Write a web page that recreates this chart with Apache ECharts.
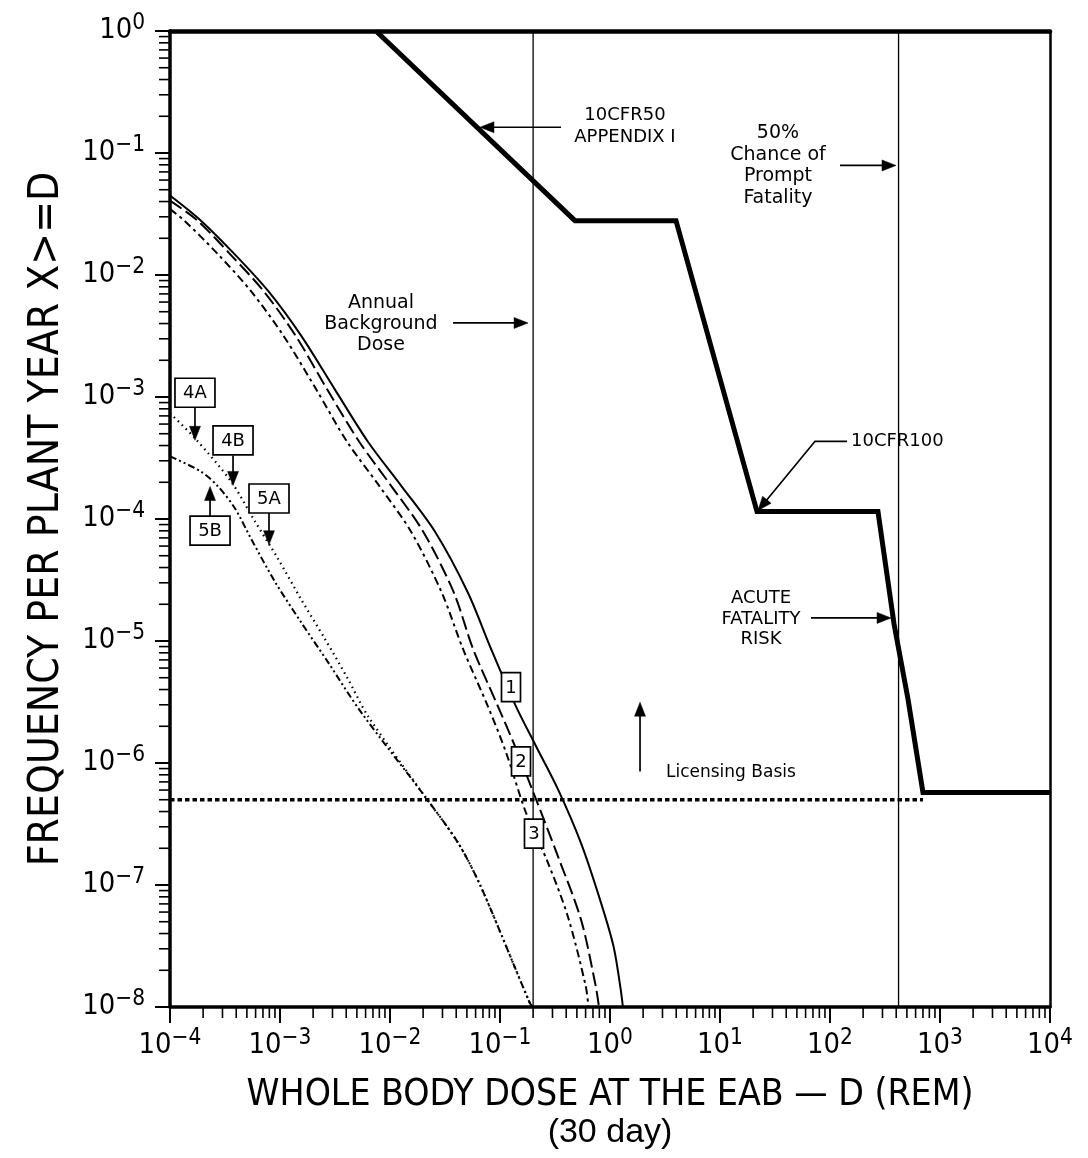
<!DOCTYPE html>
<html>
<head>
<meta charset="utf-8">
<script src="https://cdn.jsdelivr.net/npm/echarts@6/dist/echarts.min.js"></script>
<style>html,body{margin:0;padding:0;background:#fff}#c{width:1088px;height:1158px}</style>
</head>
<body>
<div id="c"></div>
<script>
// ---------------- DATA ----------------
// Curve 1 (solid)
const doseC1 = [1e-4, 1.91e-4, 3.9e-4, 7.8e-4, 1.55e-3, 3.16e-3, 6.3e-3, 1.26e-2, 2.56e-2, 5.1e-2, 8.3e-2, 0.14, 0.212, 0.336, 0.545, 0.83, 1.08, 1.25, 1.31];
const freqC1 = [0.0448, 0.0279, 0.0147, 0.0074, 3.2e-3, 1.15e-3, 4.3e-4, 1.88e-4, 7.9e-5, 2.5e-5, 8.6e-6, 2.9e-6, 1.38e-6, 6.1e-7, 2.2e-7, 7.1e-8, 3.1e-8, 1.4e-8, 1.0e-8];
// Curve 2 (long dash)
const doseC2 = [1e-4, 1.78e-4, 3.55e-4, 7.08e-4, 1.38e-3, 2.69e-3, 5.25e-3, 1.02e-2, 2.0e-2, 3.8e-2, 5.69e-2, 9.6e-2, 0.137, 0.208, 0.337, 0.545, 0.74, 0.794];
const freqC2 = [0.0407, 0.0279, 0.0147, 7.4e-3, 3.2e-3, 1.15e-3, 4.3e-4, 1.88e-4, 7.9e-5, 2.5e-5, 8.6e-6, 2.9e-6, 1.37e-6, 5.3e-7, 1.71e-7, 5.2e-8, 1.5e-8, 1.0e-8];
// Curve 3 (short dash)
const doseC3 = [1e-4, 1.35e-4, 2.75e-4, 5.43e-4, 1.07e-3, 2.14e-3, 4.07e-3, 7.94e-3, 1.55e-2, 2.95e-2, 4.61e-2, 7.78e-2, 0.1135, 0.172, 0.273, 0.415, 0.6, 0.638];
const freqC3 = [0.0347, 0.0279, 0.0147, 7.4e-3, 3.2e-3, 1.15e-3, 4.3e-4, 1.88e-4, 7.9e-5, 2.5e-5, 8.6e-6, 2.9e-6, 1.22e-6, 3.93e-7, 1.52e-7, 5.47e-8, 1.5e-8, 1.0e-8];
// Curve 4 (dotted: 4A / 4B / 5A)
const doseC4 = [1e-4, 1.69e-4, 3.59e-4, 5.93e-4, 9.59e-4, 1.55e-3, 2.56e-3, 4.15e-3, 6.31e-3, 2.08e-2, 4.15e-2, 6.71e-2, 0.1875, 0.2];
const freqC4 = [7.36e-4, 4.58e-4, 2.03e-4, 9.53e-5, 4.72e-5, 2.21e-5, 1.04e-5, 4.88e-6, 2.42e-6, 5.31e-7, 2.22e-7, 9.66e-8, 1.07e-8, 1.0e-8];
// Curve 5 (dash-dot-dot: 5B)
const doseC5 = [1e-4, 1.91e-4, 2.73e-4, 3.9e-4, 5.45e-4, 9.02e-4, 1.55e-3, 2.73e-3, 5.45e-3, 2.08e-2, 4.15e-2, 6.71e-2, 0.1875, 0.2];
const freqC5 = [3.26e-4, 2.45e-4, 1.85e-4, 1.22e-4, 6.9e-5, 3.05e-5, 1.43e-5, 6.71e-6, 2.61e-6, 5.31e-7, 2.22e-7, 9.66e-8, 1.07e-8, 1.0e-8];
// Thick criteria line (10CFR50 App. I / 10CFR100 / acute fatality risk)
const doseRisk = [7.46e-3, 0.48, 3.98, 21.7, 273, 382, 512, 700, 1e4];
const freqRisk = [1.0, 0.0279, 0.0279, 1.15e-4, 1.15e-4, 1.38e-5, 3.33e-6, 5.73e-7, 5.73e-7];
// Licensing basis
const doseLic = [1e-4, 700];
const freqLic = [5e-7, 5e-7];
// Vertical reference doses
const backgroundDose = 0.2;
const promptFatalityDose = 420;
// Axis
const X_MIN = 1e-4, X_MAX = 1e4, Y_MIN = 1e-8, Y_MAX = 1;
const X_TITLE = 'WHOLE BODY DOSE AT THE EAB — D (REM)';
const X_SUBTITLE = '(30 day)';
const Y_TITLE = 'FREQUENCY PER PLANT YEAR X>=D';
const MINOR_MANTISSAS = [2, 3, 4, 5, 6, 7, 8, 9];
const X_DECADES = [-4, -3, -2, -1, 0, 1, 2, 3];
const Y_DECADES = [-8, -7, -6, -5, -4, -3, -2, -1];

// Annotations (positions as log10 exponents of [dose, frequency])
const ANNO_TEXTS = [
  {lines: ['10CFR50', 'APPENDIX I'], at: [0.136, -0.78], size: 18, lh: 22},
  {lines: ['50%', 'Chance of', 'Prompt', 'Fatality'], at: [1.527, -1.102], size: 19, lh: 21.5},
  {lines: ['Annual', 'Background', 'Dose'], at: [-2.082, -2.401], size: 19, lh: 21},
  {lines: ['10CFR100'], at: [2.191, -3.363], size: 18, align: 'left'},
  {lines: ['ACUTE', 'FATALITY', 'RISK'], at: [1.373, -4.819], size: 18, lh: 20.5},
  {lines: ['Licensing Basis'], at: [0.509, -6.077], size: 17, align: 'left'}
];
const ANNO_ARROWS = [
  [[-0.445, -0.789], [-1.182, -0.789]],
  [[2.091, -1.102], [2.6, -1.102]],
  [[-1.427, -2.393], [-0.745, -2.393]],
  [[2.155, -3.363], [1.864, -3.363], [1.345, -3.931]],
  [[1.827, -4.811], [2.555, -4.811]],
  [[0.273, -6.069], [0.273, -5.502]],
  [[-3.773, -3.084], [-3.773, -3.355]],
  [[-3.427, -3.479], [-3.427, -3.725]],
  [[-3.1, -3.947], [-3.1, -4.211]],
  [[-3.636, -3.98], [-3.636, -3.734]]
];
const ANNO_BOXES = [
  {t: '1', at: [-0.9, -5.378]},
  {t: '2', at: [-0.809, -5.987]},
  {t: '3', at: [-0.691, -6.579]},
  {t: '4A', at: [-3.773, -2.965]},
  {t: '4B', at: [-3.427, -3.355]},
  {t: '5A', at: [-3.1, -3.832]},
  {t: '5B', at: [-3.636, -4.095]}
];

// ---------------- FONTS ----------------
function hasFont(name) {
  const c = document.createElement('canvas').getContext('2d');
  const s = 'WHOLE BODY DOSE 0123456789 mmmwwwiiilll';
  c.font = '40px monospace';
  const w0 = c.measureText(s).width;
  c.font = '40px "' + name + '", monospace';
  const w1 = c.measureText(s).width;
  return Math.abs(w0 - w1) > 0.5;
}
const NARROW = ['Liberation Sans Narrow', 'Arial Narrow', 'DejaVu Sans Condensed'].find(hasFont) || 'Liberation Sans';
const ANNO = ['DejaVu Sans', 'Noto Sans'].find(hasFont) || 'sans-serif';
function textW(text, family, size) {
  const c = document.createElement('canvas').getContext('2d');
  c.font = size + 'px "' + family + '"';
  return c.measureText(text).width;
}
const xTitleSize = 36 * 727 / textW(X_TITLE, NARROW, 36);
const yTitleSize = 36 * 695 / textW(Y_TITLE, NARROW, 36);
const tickSize = 36 * 33 / textW('10', NARROW, 36);
const supSize = tickSize * 0.78;

// ---------------- CHART ----------------
const chart = echarts.init(document.getElementById('c'), null, {renderer: 'canvas', width: 1088, height: 1158});
const pair = (xs, ys) => xs.map((x, i) => [x, ys[i]]);
const supLabel = v => {
  const e = Math.round(Math.log10(v));
  return '{b|10}{s|' + (e < 0 ? '\u2212' + (-e) : String(e)) + '}';
};
const richTick = {
  b: {fontFamily: NARROW, fontSize: tickSize, color: '#000', lineHeight: tickSize, padding: [9, 0, 0, 0]},
  s: {fontFamily: NARROW, fontSize: supSize, color: '#000', lineHeight: supSize, verticalAlign: 'top'}
};
const xMinor = [];
X_DECADES.forEach(d => MINOR_MANTISSAS.forEach(m => xMinor.push(m * Math.pow(10, d))));
const yMinor = [];
Y_DECADES.forEach(d => MINOR_MANTISSAS.forEach(m => yMinor.push(m * Math.pow(10, d))));

const lineSeries = (name, data, width, type, z, smooth) => ({
  name, type: 'line', data, showSymbol: false, symbol: 'none', smooth: smooth || 0,
  clip: true, z: z || 3, silent: true,
  lineStyle: {color: '#000', width, type: type || 'solid', cap: 'butt', join: 'miter'}
});

const option = {
  animation: false,
  backgroundColor: '#fff',
  grid: {left: 170, right: 38, top: 31, bottom: 151, containLabel: false},
  xAxis: [
    {
      type: 'log', logBase: 10, min: X_MIN, max: X_MAX, position: 'bottom',
      name: X_TITLE, nameLocation: 'middle', nameGap: 70,
      nameTextStyle: {fontFamily: NARROW, fontSize: xTitleSize, color: '#000'},
      axisLine: {show: true, onZero: false, lineStyle: {color: '#000', width: 3.5}},
      axisTick: {show: true, length: 16, lineStyle: {color: '#000', width: 2}},
      splitLine: {show: false}, minorTick: {show: false},
      axisLabel: {formatter: supLabel, margin: 20, rich: richTick}
    },
    {
      type: 'log', logBase: 10, min: X_MIN, max: X_MAX, position: 'top',
      axisLine: {show: true, onZero: false, lineStyle: {color: '#000', width: 4.5}},
      axisTick: {show: false}, axisLabel: {show: false}, splitLine: {show: false}
    }
  ],
  yAxis: [
    {
      type: 'log', logBase: 10, min: Y_MIN, max: Y_MAX, position: 'left',
      name: Y_TITLE, nameLocation: 'middle', nameGap: 102,
      nameTextStyle: {fontFamily: NARROW, fontSize: yTitleSize, color: '#000'},
      axisLine: {show: true, onZero: false, lineStyle: {color: '#000', width: 3.5}},
      axisTick: {show: true, length: 15, lineStyle: {color: '#000', width: 2}},
      splitLine: {show: false}, minorTick: {show: false},
      axisLabel: {formatter: supLabel, margin: 25, rich: richTick, padding: [0, 0, 9, 0]}
    },
    {
      type: 'log', logBase: 10, min: Y_MIN, max: Y_MAX, position: 'right',
      axisLine: {show: true, onZero: false, lineStyle: {color: '#000', width: 2.5}},
      axisTick: {show: false}, axisLabel: {show: false}, splitLine: {show: false}
    }
  ],
  series: [
    lineSeries('1', pair(doseC1, freqC1), 2, 'solid', 4, 0.3),
    lineSeries('2', pair(doseC2, freqC2), 2, [14, 5], 4, 0.3),
    lineSeries('3', pair(doseC3, freqC3), 2, [8, 4, 3, 4], 4, 0.3),
    lineSeries('4', pair(doseC4, freqC4), 2.2, [1.5, 4], 4, 0.3),
    lineSeries('5', pair(doseC5, freqC5), 2, [7, 3, 2, 3, 2, 3], 4, 0.3),
    lineSeries('risk', pair(doseRisk, freqRisk), 5, 'solid', 6, 0),
    lineSeries('licensing', pair(doseLic, freqLic), 3.4, [4.5, 3], 5, 0),
    lineSeries('background', [[backgroundDose, Y_MIN], [backgroundDose, Y_MAX]], 1.3, 'solid', 2, 0),
    lineSeries('prompt', [[promptFatalityDose, Y_MIN], [promptFatalityDose, Y_MAX]], 1.3, 'solid', 2, 0),
    {
      type: 'custom', coordinateSystem: 'cartesian2d', clip: false, silent: true, z: 8,
      data: xMinor.map(v => [v, Y_MIN]),
      renderItem: (params, api) => {
        const p = api.coord([api.value(0), api.value(1)]);
        return {type: 'line', shape: {x1: p[0], y1: p[1], x2: p[0], y2: p[1] + 11}, style: {stroke: '#000', lineWidth: 1.6}};
      }
    },
    {
      type: 'custom', coordinateSystem: 'cartesian2d', clip: false, silent: true, z: 8,
      data: yMinor.map(v => [X_MIN, v]),
      renderItem: (params, api) => {
        const p = api.coord([api.value(0), api.value(1)]);
        return {type: 'line', shape: {x1: p[0], y1: p[1], x2: p[0] - 11, y2: p[1]}, style: {stroke: '#000', lineWidth: 1.6}};
      }
    }
  ]
};
chart.setOption(option);

// ---------------- ANNOTATIONS ----------------
const px = e => chart.convertToPixel({xAxisIndex: 0, yAxisIndex: 0}, [Math.pow(10, e[0]), Math.pow(10, e[1])]);
const els = [];
ANNO_TEXTS.forEach(t => {
  const p = px(t.at);
  els.push({type: 'text', x: p[0], y: p[1], z: 60, silent: true,
    style: {text: t.lines.join('\n'), fontFamily: ANNO, fontSize: t.size, fill: '#000',
      align: t.align || 'center', verticalAlign: 'middle', lineHeight: t.lh || t.size + 3}});
});
ANNO_ARROWS.forEach(a => {
  const pts = a.map(px);
  const T = pts[pts.length - 1], P = pts[pts.length - 2];
  const dx = T[0] - P[0], dy = T[1] - P[1], L = Math.hypot(dx, dy);
  const ux = dx / L, uy = dy / L, nx = -uy, ny = ux;
  const hl = 14, hw = 5.5;
  const base = [T[0] - ux * hl, T[1] - uy * hl];
  const linePts = pts.slice(0, -1).concat([[T[0] - ux * hl * 0.5, T[1] - uy * hl * 0.5]]);
  els.push({type: 'polyline', z: 61, silent: true, shape: {points: linePts}, style: {stroke: '#000', lineWidth: 1.7, fill: null}});
  els.push({type: 'polygon', z: 61, silent: true,
    shape: {points: [T, [base[0] + nx * hw, base[1] + ny * hw], [base[0] - nx * hw, base[1] - ny * hw]]},
    style: {fill: '#000', stroke: '#000', lineWidth: 0.5}});
});
ANNO_BOXES.forEach(b => {
  const p = px(b.at);
  const w = b.t.length > 1 ? 40 : 19, h = 29;
  els.push({type: 'rect', z: 62, silent: true, shape: {x: p[0] - w / 2, y: p[1] - h / 2, width: w, height: h},
    style: {fill: '#fff', stroke: '#000', lineWidth: 1.7}});
  els.push({type: 'text', z: 63, silent: true, x: p[0], y: p[1] + 1,
    style: {text: b.t, fontFamily: ANNO, fontSize: 18, fill: '#000', align: 'center', verticalAlign: 'middle'}});
});
const sub = px([0, -8]);
els.push({type: 'text', z: 60, silent: true, x: sub[0], y: sub[1] + 126,
  style: {text: X_SUBTITLE, fontFamily: 'Liberation Sans', fontSize: 34, fill: '#000', align: 'center', verticalAlign: 'middle'}});
chart.setOption({graphic: {elements: els}});
</script>
</body>
</html>
